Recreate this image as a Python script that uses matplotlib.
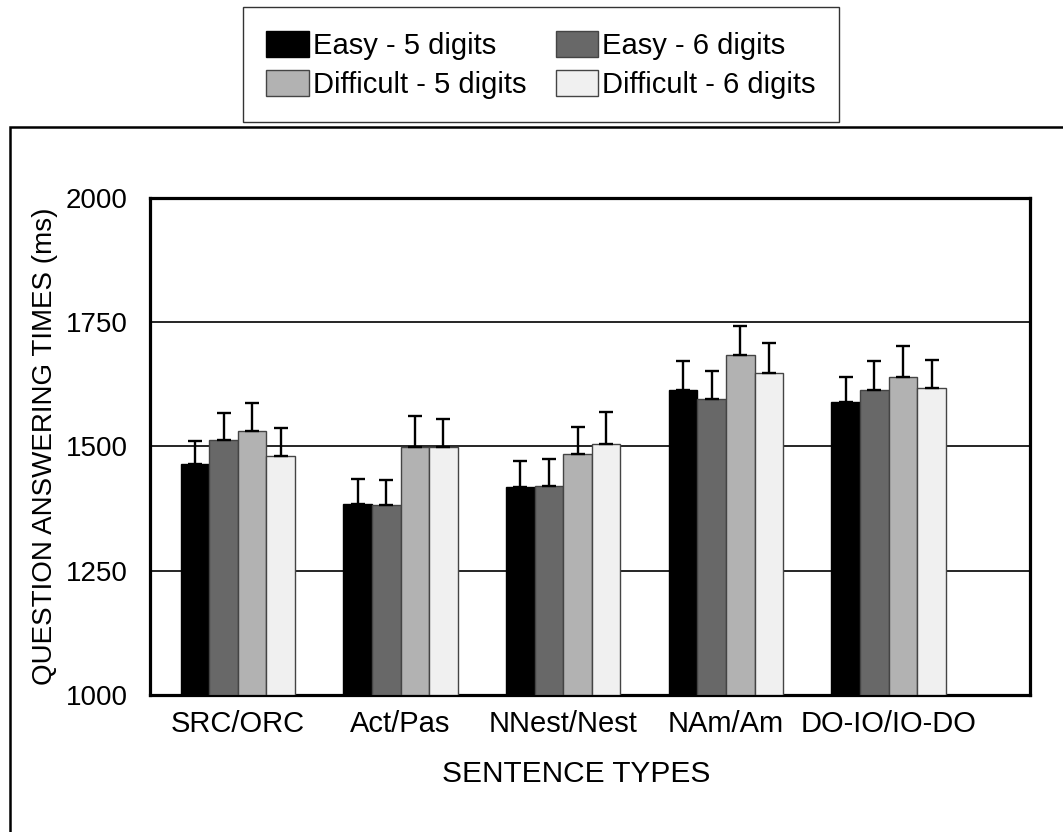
import numpy as np
import matplotlib
matplotlib.use("Agg")
import matplotlib.pyplot as plt
from matplotlib.patches import Rectangle

plt.rcParams['font.family'] = ['Liberation Sans', 'DejaVu Sans']

categories = ["SRC/ORC", "Act/Pas", "NNest/Nest", "NAm/Am", "DO-IO/IO-DO"]
series = ["Easy - 5 digits", "Easy - 6 digits", "Difficult - 5 digits", "Difficult - 6 digits"]
colors = ["#000000", "#686868", "#b2b2b2", "#f0f0f0"]

easy5 = [1464, 1384, 1419, 1614, 1589]
easy6 = [1513, 1383, 1420, 1595, 1613]
diff5 = [1532, 1498, 1484, 1683, 1639]
diff6 = [1481, 1498, 1505, 1647, 1617]

easy5_err = [47, 51, 51, 58, 51]
easy6_err = [55, 50, 55, 57, 59]
diff5_err = [56, 64, 56, 60, 64]
diff6_err = [56, 57, 65, 62, 57]

means = [easy5, easy6, diff5, diff6]
errs = [easy5_err, easy6_err, diff5_err, diff6_err]

fig = plt.figure(figsize=(10.63, 8.32), dpi=100)
ax = fig.add_axes([0.1411, 0.1647, 0.828, 0.5974])

x = np.arange(len(categories))
w = 0.176
bars = []
for i, (m, e, c) in enumerate(zip(means, errs, colors)):
    pos = x + (i - 1.5) * w
    edge = "#000000" if i == 0 else "#444444"
    b = ax.bar(pos, np.array(m) - 1000, w, bottom=1000, color=c, edgecolor=edge,
               linewidth=1, label=series[i], zorder=3)
    bars.append(b)
    ax.errorbar(pos, m, yerr=[np.zeros(len(e)), e], fmt="none", ecolor="black",
                elinewidth=1.7, capsize=5.3, capthick=1.7, zorder=4)

ax.set_ylim(1000, 2000)
ax.set_xlim(-0.54, 4.87)
ax.set_yticks([1000, 1250, 1500, 1750, 2000])
ax.set_xticks(x)
ax.set_xticklabels(categories)
ax.tick_params(axis="x", length=0, labelsize=21, pad=11)
ax.tick_params(axis="y", length=0, labelsize=20, pad=16)
for yv in [1250, 1500, 1750]:
    ax.axhline(yv, color="black", linewidth=1.2, zorder=1)
for s in ax.spines.values():
    s.set_linewidth(2.3)

ax.set_ylabel("QUESTION ANSWERING TIMES (ms)", fontsize=20)
ax.yaxis.set_label_coords(-0.1045, 0.5)
ax.set_xlabel("SENTENCE TYPES", fontsize=21.5)
ax.xaxis.set_label_coords(0.484, -0.131)

# outer frame
fig.patches.append(Rectangle((0.0094, -0.05), 1.2, 0.8974, transform=fig.transFigure,
                             fill=False, edgecolor="black", linewidth=1.8))

# row-major order: Easy 5 / Easy 6 on the first row
order = [0, 2, 1, 3]
leg = fig.legend([bars[k] for k in order], [series[k] for k in order],
                 loc="center", bbox_to_anchor=(0.509, 0.922), ncol=2, fontsize=21,
                 frameon=True, fancybox=False, edgecolor="black", handlelength=1.45,
                 handleheight=1.0, handletextpad=0.15, columnspacing=1.0,
                 borderpad=0.8, labelspacing=0.35, borderaxespad=0)
leg.get_frame().set_linewidth(1.0)

fig.savefig("out.png", dpi=100)
